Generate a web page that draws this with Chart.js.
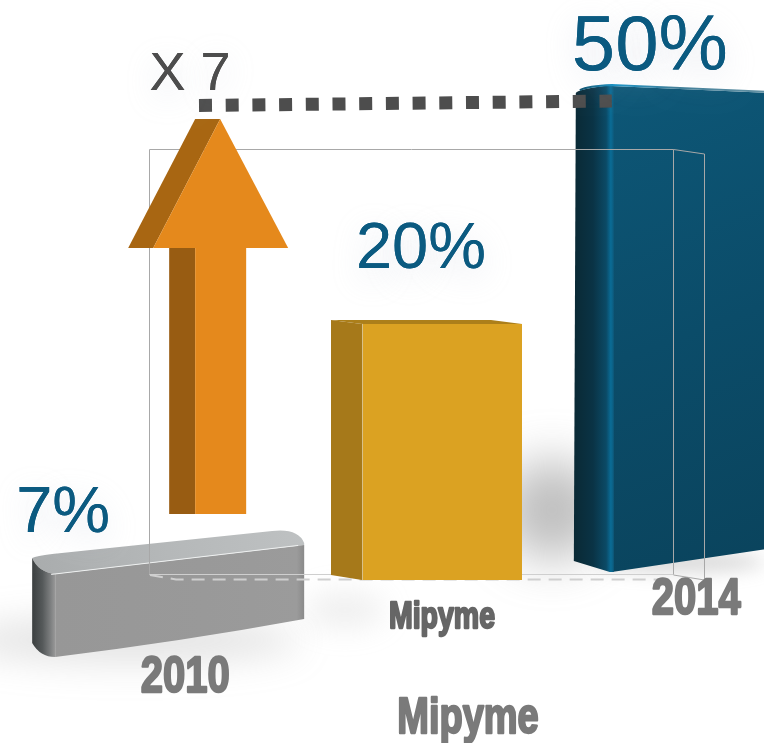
<!DOCTYPE html>
<html>
<head>
<meta charset="utf-8">
<title>Mipyme</title>
<script src="https://cdn.jsdelivr.net/npm/chart.js@4"></script>
<style>
  html, body { margin: 0; padding: 0; background: #fff; overflow: hidden; }
  #ventana { width: 764px; height: 743px; overflow: hidden; }
  /* la barra de 2014 queda cortada por el borde derecho, como en el original */
  #caja { position: relative; width: 814px; height: 743px; }
</style>
</head>
<body>
<div id="ventana"><div id="caja"><canvas id="myChart"></canvas></div></div>
<script>
// Datos del gráfico
const categorias = ['2010', 'Mipyme', '2014'];
const porcentajes = [7, 20, 50];
const etiquetas = ['7%', '20%', '50%'];
const tituloEje = 'Mipyme';
const multiplicador = 'X 7';

const FUENTE = '"Liberation Sans", Arial, sans-serif';
const AZUL_TEXTO = '#0b5a80';

// Cada barra está en otra profundidad de la perspectiva, por eso un eje y oculto para cada una
const ejes = ['yGris', 'yAmarillo', 'yAzul'];
const anchos = [272, 191, 218];

const datasets = porcentajes.map((valor, i) => ({
    label: categorias[i],
    data: categorias.map((c, j) => (j === i ? valor : null)),
    yAxisID: ejes[i],
    barThickness: anchos[i],
    grouped: false,
    backgroundColor: ['#999999', '#dba222', '#0d5472'][i]
}));

function poligono(ctx, puntos, relleno) {
    ctx.beginPath();
    puntos.forEach((p, i) => (i ? ctx.lineTo(p[0], p[1]) : ctx.moveTo(p[0], p[1])));
    ctx.closePath();
    ctx.fillStyle = relleno;
    ctx.fill();
}

function degradado(ctx, x0, y0, x1, y1, paradas) {
    const g = ctx.createLinearGradient(x0, y0, x1, y1);
    paradas.forEach(p => g.addColorStop(p[0], p[1]));
    return g;
}

function sombraSuelo(ctx, x, y, rx, ry, color, blur) {
    ctx.save();
    ctx.filter = `blur(${blur}px)`;
    ctx.fillStyle = color;
    ctx.beginPath();
    ctx.ellipse(x, y, rx, ry, 0, 0, Math.PI * 2);
    ctx.fill();
    ctx.restore();
}

function barraGris(ctx, el) {
    const l = el.x - el.width / 2, r = el.x + el.width / 2;
    const t = el.y, b = el.base;
    const fx = l + 23;
    // cara superior
    ctx.beginPath();
    ctx.moveTo(l, t + 28);
    ctx.quadraticCurveTo(l + 4, t + 26, l + 20, t + 24);
    ctx.lineTo(r - 32, t + 1);
    ctx.quadraticCurveTo(r - 6, t - 2, r, t + 13);
    ctx.lineTo(r, t + 15);
    ctx.lineTo(fx, t + 44);
    ctx.quadraticCurveTo(l + 6, t + 42, l, t + 28);
    ctx.closePath();
    ctx.fillStyle = degradado(ctx, l, t + 40, r, t, [[0, '#a9acad'], [0.5, '#b5b8b9'], [1, '#bec1c2']]);
    ctx.fill();
    // lado redondeado
    ctx.beginPath();
    ctx.moveTo(l, t + 28);
    ctx.quadraticCurveTo(l + 6, t + 42, fx, t + 44);
    ctx.lineTo(fx, b);
    ctx.quadraticCurveTo(l + 8, b, l, b - 14);
    ctx.closePath();
    ctx.fillStyle = degradado(ctx, l, 0, fx, 0, [[0, '#3b3f40'], [0.45, '#55595a'], [0.8, '#7d7f80'], [1, '#989898']]);
    ctx.fill();
    // frente
    ctx.beginPath();
    ctx.moveTo(fx, t + 44);
    ctx.lineTo(r, t + 15);
    ctx.lineTo(r, b - 38);
    ctx.quadraticCurveTo(r - 120, b - 16, fx, b);
    ctx.closePath();
    ctx.fillStyle = degradado(ctx, fx, 0, r, 0, [[0, '#979797'], [0.6, '#999999'], [0.97, '#9b9b9b'], [1, '#8a8a8a']]);
    ctx.fill();
    // brillo del borde
    ctx.strokeStyle = '#eef0f0';
    ctx.lineWidth = 1;
    ctx.beginPath();
    ctx.moveTo(fx - 4, t + 44.5);
    ctx.lineTo(r - 6, t + 15.5);
    ctx.stroke();
}

function barraAzul(ctx, el) {
    const l = el.x - el.width / 2, r = el.x + el.width / 2;
    const t = el.y, b = el.base;
    const fx = l + 36;
    // frente
    poligono(ctx, [[fx, t + 1], [r, t + 9], [r, b - 27], [fx, b]],
        degradado(ctx, fx, t, r, b, [[0, '#0d5777'], [0.5, '#0b4c69'], [1, '#0a435c']]));
    // lado redondeado
    ctx.beginPath();
    ctx.moveTo(l, t + 8);
    ctx.quadraticCurveTo(l + 2, t + 4, fx, t);
    ctx.lineTo(fx + 2, t + 2);
    ctx.lineTo(fx + 2, b);
    ctx.lineTo(fx - 2, b);
    ctx.lineTo(l - 2, b - 11);
    ctx.closePath();
    ctx.fillStyle = degradado(ctx, l, 0, fx + 2, 0, [[0, '#0a2a36'], [0.45, '#0a3345'], [0.8, '#0b4a66'], [0.92, '#0a6c96'], [1, '#0d5a7c']]);
    ctx.fill();
    // brillo del borde superior
    ctx.lineWidth = 2;
    ctx.strokeStyle = degradado(ctx, l, 0, r, 0, [[0, '#0d4a64'], [0.18, '#1591c4'], [0.45, '#3d7d98'], [1, '#6f98a8']]);
    ctx.beginPath();
    ctx.moveTo(l + 4, t + 5);
    ctx.quadraticCurveTo(l + 12, t + 1, fx, t);
    ctx.lineTo(r, t + 8);
    ctx.stroke();
}

function barraAmarilla(ctx, el) {
    const l = el.x - el.width / 2, r = el.x + el.width / 2;
    const t = el.y, b = el.base;
    const fx = l + 31;
    poligono(ctx, [[l, t], [r - 31, t], [r, t + 4], [fx, t + 4]], '#ac7f1a');
    poligono(ctx, [[l, t], [fx, t + 4], [fx, b], [l, b - 5]], '#a6791a');
    poligono(ctx, [[fx, t + 4], [r, t + 4], [r, b], [fx, b]], '#dba222');
    ctx.strokeStyle = '#d8c089';
    ctx.lineWidth = 1;
    ctx.beginPath();
    ctx.moveTo(fx + 0.5, t + 4);
    ctx.lineTo(fx + 0.5, b);
    ctx.stroke();
}

// Caja de alambre del área de gráfico
function marco(ctx) {
    ctx.save();
    ctx.strokeStyle = '#a8a8a8';
    ctx.lineWidth = 1;
    ctx.beginPath();
    ctx.moveTo(149.5, 575);
    ctx.lineTo(149.5, 149.5);
    ctx.lineTo(673.5, 149.5);
    ctx.lineTo(673.5, 575);
    ctx.lineTo(704.5, 580);
    ctx.lineTo(704.5, 154);
    ctx.lineTo(673.5, 149.5);
    ctx.stroke();
    ctx.strokeStyle = '#cfcfcf';
    ctx.beginPath();
    ctx.moveTo(149.5, 574.5);
    ctx.lineTo(673.5, 574.5);
    ctx.stroke();
    ctx.lineWidth = 2;
    ctx.setLineDash([13, 8]);
    ctx.beginPath();
    ctx.moveTo(150, 575);
    ctx.lineTo(176, 579.5);
    ctx.lineTo(673, 579.5);
    ctx.stroke();
    ctx.restore();
}

function flecha(ctx, gris, azul) {
    const base = gris.x - gris.width / 2;
    const top = azul.y + 34;
    // cara lateral
    poligono(ctx, [[base + 96, top + 129], [base + 163, top], [base + 188, top], [base + 121, top + 129]], '#a86612');
    poligono(ctx, [[base + 137, top + 129], [base + 163, top + 129], [base + 163, top + 395], [base + 137, top + 395]], '#985c12');
    // cara frontal
    poligono(ctx, [[base + 121, top + 129], [base + 188, top], [base + 256, top + 129]], '#e5891c');
    poligono(ctx, [[base + 163, top + 129], [base + 214, top + 129], [base + 214, top + 395], [base + 163, top + 395]], '#e5891c');
}

function punteado(ctx, azul) {
    const fin = azul.x - azul.width / 2 + 36;
    ctx.save();
    ctx.strokeStyle = '#4d4d4d';
    ctx.lineWidth = 13;
    ctx.setLineDash([13, 13.7]);
    ctx.beginPath();
    ctx.moveTo(199, 105.5);
    ctx.lineTo(fin, 101);
    ctx.stroke();
    ctx.restore();
}

function textoHalo(ctx, txt, x, y, px, color) {
    ctx.save();
    ctx.font = `${px}px ${FUENTE}`;
    ctx.textAlign = 'center';
    ctx.textBaseline = 'alphabetic';
    ctx.fillStyle = color;
    // halo muy pálido y separado del texto
    ctx.shadowColor = 'rgba(185,192,210,0.4)';
    ctx.shadowBlur = 32;
    ctx.shadowOffsetY = 9;
    ctx.fillText(txt, x, y);
    ctx.shadowColor = 'transparent';
    ctx.fillText(txt, x, y);
    ctx.restore();
}

// Texto gris estirado en vertical, como las etiquetas del original
function textoEje(ctx, txt, x, y, px, sy, color) {
    ctx.save();
    ctx.translate(x, y);
    ctx.scale(1, sy);
    ctx.font = `bold ${px}px ${FUENTE}`;
    ctx.textAlign = 'center';
    ctx.textBaseline = 'alphabetic';
    ctx.fillStyle = color;
    ctx.strokeStyle = color;
    ctx.lineWidth = 1.8;
    ctx.lineJoin = 'round';
    ctx.strokeText(txt, 0, 0);
    ctx.fillText(txt, 0, 0);
    ctx.restore();
}

const dibujo3d = {
    id: 'dibujo3d',
    // las barras planas de la librería se sustituyen por su versión con volumen
    beforeDatasetDraw() { return false; },
    afterDatasetsDraw(chart) {
        const ctx = chart.ctx;
        const gris = chart.getDatasetMeta(0).data[0];
        const amarillo = chart.getDatasetMeta(1).data[1];
        const azul = chart.getDatasetMeta(2).data[2];

        ctx.save();
        sombraSuelo(ctx, 130, 640, 170, 22, 'rgba(140,140,140,0.25)', 18);
        sombraSuelo(ctx, 552, 510, 50, 50, 'rgba(125,125,125,0.5)', 24);
        sombraSuelo(ctx, 345, 610, 40, 18, 'rgba(180,180,180,0.22)', 14);
        sombraSuelo(ctx, 680, 562, 85, 10, 'rgba(140,140,140,0.35)', 9);
        barraAzul(ctx, azul);
        barraGris(ctx, gris);
        marco(ctx);
        barraAmarilla(ctx, amarillo);
        flecha(ctx, gris, azul);
        punteado(ctx, azul);

        textoHalo(ctx, etiquetas[0], gris.x - 105, gris.y + 2, 65, AZUL_TEXTO);
        textoHalo(ctx, etiquetas[1], amarillo.x - 5.5, amarillo.y - 52, 65, AZUL_TEXTO);
        textoHalo(ctx, etiquetas[2], azul.x - 35, azul.y - 15, 78, AZUL_TEXTO);
        textoHalo(ctx, multiplicador, 190, 90, 54, '#4d4d4d');

        textoEje(ctx, categorias[0], gris.x + 17, 692, 40, 1.26, '#7a7a7a');
        textoEje(ctx, categorias[1], amarillo.x + 15.5, 628, 28.5, 1.27, '#666666');
        textoEje(ctx, categorias[2], azul.x + 11.5, 614, 40, 1.26, '#7a7a7a');
        textoEje(ctx, tituloEje, 468, 733, 38, 1.33, '#7a7a7a');
        ctx.restore();
    }
};

const config = {
    type: 'bar',
    data: { labels: categorias, datasets: datasets },
    plugins: [dibujo3d],
    options: {
        responsive: true,
        maintainAspectRatio: false,
        animation: false,
        layout: { padding: { left: 39, right: 0, top: 0, bottom: 0 } },
        plugins: { legend: { display: false }, tooltip: { enabled: false } },
        scales: {
            x: { display: false },
            yGris: { display: false, min: -4.74, max: 36.2 },
            yAmarillo: { display: false, min: -12.54, max: 44.6 },
            yAzul: { display: false, min: -17.56, max: 58.73 }
        }
    }
};

// Crear el gráfico
var myChart = new Chart(document.getElementById('myChart'), config);
</script>
</body>
</html>
